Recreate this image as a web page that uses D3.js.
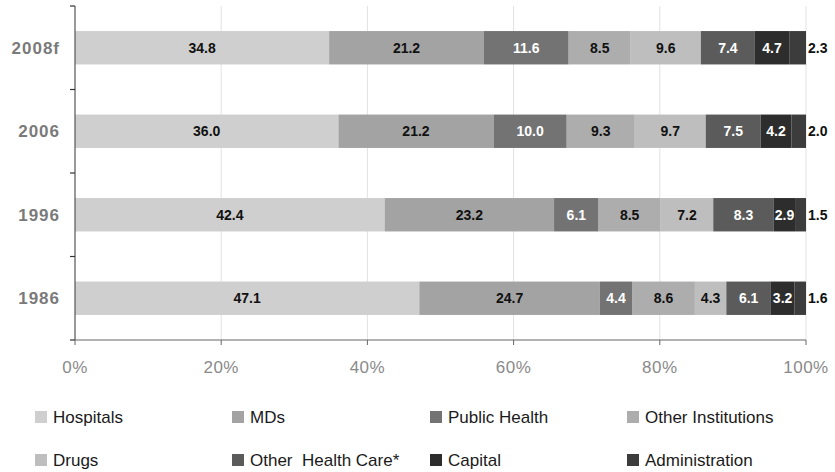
<!DOCTYPE html>
<html>
<head>
<meta charset="utf-8">
<script src="https://cdn.jsdelivr.net/npm/d3@7"></script>
<style>
  html, body { margin: 0; padding: 0; background: #fff; }
  svg { display: block; }
</style>
</head>
<body>
<svg id="chart" width="835" height="472"></svg>
<script>
const years = ["2008f", "2006", "1996", "1986"];
const seriesNames = ["Hospitals", "MDs", "Public Health", "Other Institutions", "Drugs", "Other  Health Care*", "Capital", "Administration"];
const hospitals = [34.8, 36.0, 42.4, 47.1];
const mds = [21.2, 21.2, 23.2, 24.7];
const publicHealth = [11.6, 10.0, 6.1, 4.4];
const otherInstitutions = [8.5, 9.3, 8.5, 8.6];
const drugs = [9.6, 9.7, 7.2, 4.3];
const otherHealthCare = [7.4, 7.5, 8.3, 6.1];
const capital = [4.7, 4.2, 2.9, 3.2];
const administration = [2.3, 2.0, 1.5, 1.6];
const xTicks = [0, 0.2, 0.4, 0.6, 0.8, 1.0];

const seriesValues = [hospitals, mds, publicHealth, otherInstitutions, drugs, otherHealthCare, capital, administration];
const colors = ["#cfcfcf", "#a3a3a3", "#737373", "#adadad", "#bebebe", "#5b5b5b", "#2d2d2d", "#3c3c3c"];
const labelColors = ["#111", "#111", "#fff", "#111", "#111", "#fff", "#fff", "#111"];

const table = years.map((yr, i) => {
  const row = { year: yr };
  seriesNames.forEach((s, j) => { row[s] = seriesValues[j][i]; });
  return row;
});

const svg = d3.select("#chart");
const mLeft = 75, mRight = 806, mTop = 6, mBottom = 340;

const x = d3.scaleLinear().domain([0, 1]).range([mLeft, mRight]);
const y = d3.scaleBand().domain(years).range([mTop, mBottom]).paddingInner(0.6).paddingOuter(0.3);

const stack = d3.stack().keys(seriesNames).offset(d3.stackOffsetExpand);
const stacked = stack(table);

// gridlines
svg.append("g").selectAll("line").data(xTicks.slice(1)).join("line")
  .attr("x1", d => x(d)).attr("x2", d => x(d))
  .attr("y1", mTop).attr("y2", mBottom)
  .attr("stroke", "#e2e2e2").attr("stroke-width", 1);

// bars
const layers = svg.append("g").selectAll("g").data(stacked).join("g")
  .attr("fill", (d, i) => colors[i]);
layers.selectAll("rect").data(d => d).join("rect")
  .attr("x", d => x(d[0]))
  .attr("width", d => x(d[1]) - x(d[0]))
  .attr("y", d => y(d.data.year))
  .attr("height", y.bandwidth());

// labels
stacked.forEach((layer, i) => {
  const isLast = i === stacked.length - 1;
  svg.append("g").selectAll("text").data(layer).join("text")
    .attr("x", d => isLast ? x(1) + 2 : (x(d[0]) + x(d[1])) / 2)
    .attr("y", d => y(d.data.year) + y.bandwidth() / 2)
    .attr("dy", "0.36em")
    .attr("text-anchor", isLast ? "start" : "middle")
    .attr("font-family", "Liberation Sans, Arial, sans-serif")
    .attr("font-weight", "bold")
    .attr("font-size", 14)
    .attr("fill", isLast ? "#111" : labelColors[i])
    .text(d => d.data[layer.key].toFixed(1));
});

// y axis
svg.append("line").attr("x1", mLeft).attr("x2", mLeft).attr("y1", mTop).attr("y2", mBottom)
  .attr("stroke", "#555").attr("stroke-width", 1.2);
const boundaries = d3.range(years.length + 1).map(i => mTop + i * y.step());
svg.append("g").selectAll("line").data(boundaries).join("line")
  .attr("x1", mLeft - 5).attr("x2", mLeft).attr("y1", d => d).attr("y2", d => d)
  .attr("stroke", "#333").attr("stroke-width", 1.2);
svg.append("g").selectAll("text").data(years).join("text")
  .attr("x", 60).attr("y", d => y(d) + y.bandwidth() / 2).attr("dy", "0.36em")
  .attr("text-anchor", "end")
  .attr("font-family", "Liberation Sans, Arial, sans-serif")
  .attr("font-weight", "bold").attr("font-size", 17).attr("letter-spacing", 1)
  .attr("fill", "#7a7a7a")
  .text(d => d);

// x axis
svg.append("line").attr("x1", mLeft).attr("x2", mRight).attr("y1", mBottom).attr("y2", mBottom)
  .attr("stroke", "#666").attr("stroke-width", 1.2);
svg.append("g").selectAll("line").data(xTicks).join("line")
  .attr("x1", d => x(d)).attr("x2", d => x(d)).attr("y1", mBottom).attr("y2", mBottom + 5)
  .attr("stroke", "#666").attr("stroke-width", 1);
svg.append("g").selectAll("text").data(xTicks).join("text")
  .attr("x", d => x(d)).attr("y", 367).attr("dy", "0.36em")
  .attr("text-anchor", "middle")
  .attr("font-family", "Liberation Sans, Arial, sans-serif")
  .attr("font-size", 17).attr("letter-spacing", 0.5)
  .attr("fill", "#8a8a8a")
  .text(d => d3.format(".0%")(d));

// legend
const legendCols = [35, 232, 430, 627];
const legendRows = [417, 460];
const legend = svg.append("g").selectAll("g").data(seriesNames).join("g")
  .attr("transform", (d, i) => `translate(${legendCols[i % 4]},${legendRows[Math.floor(i / 4)]})`);
legend.append("rect").attr("x", 0).attr("y", -6).attr("width", 12).attr("height", 12)
  .attr("fill", (d, i) => colors[i]);
legend.append("text").attr("x", 18).attr("y", 0).attr("dy", "0.36em")
  .attr("font-family", "Liberation Sans, Arial, sans-serif")
  .attr("font-size", 17).attr("fill", "#1a1a1a")
  .style("white-space", "pre")
  .text(d => d);
</script>
</body>
</html>
